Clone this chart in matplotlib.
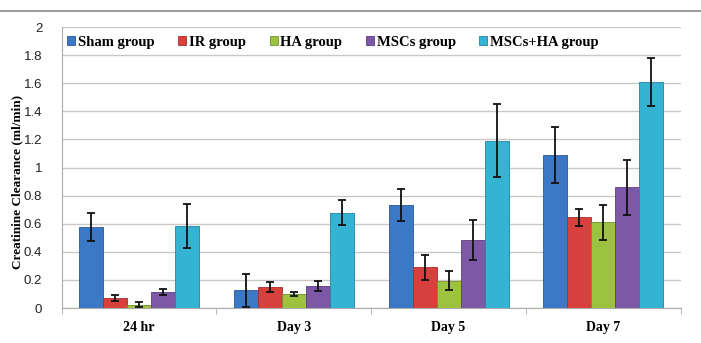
import numpy as np
import matplotlib.pyplot as plt
from matplotlib.lines import Line2D

# time points and groups
days = ['24 hr', 'Day 3', 'Day 5', 'Day 7']
groups = ['Sham group', 'IR group', 'HA group', 'MSCs group', 'MSCs+HA group']

# creatinine clearance means (ml/min), one list per group
sham = [0.58, 0.125, 0.735, 1.09]
ir = [0.07, 0.15, 0.29, 0.645]
ha = [0.025, 0.10, 0.195, 0.61]
mscs = [0.115, 0.155, 0.485, 0.86]
mscs_ha = [0.585, 0.68, 1.19, 1.61]

# error bar half-lengths
sham_err = [0.10, 0.12, 0.115, 0.20]
ir_err = [0.02, 0.035, 0.09, 0.06]
ha_err = [0.015, 0.015, 0.07, 0.125]
mscs_err = [0.02, 0.035, 0.14, 0.195]
mscs_ha_err = [0.155, 0.09, 0.26, 0.17]

colors = ['#3B78C6', '#D8403D', '#9CC23F', '#7D58A6', '#35B3D3']
edges = ['#2A5896', '#A52E2C', '#72912C', '#5A3E7D', '#23859E']

values = [sham, ir, ha, mscs, mscs_ha]
errors = [sham_err, ir_err, ha_err, mscs_err, mscs_ha_err]

fig = plt.figure(figsize=(7.01, 3.43), dpi=100)
ax = fig.add_axes([0.088, 0.102, 0.883, 0.819])

x = np.arange(len(days))
w = 0.155
for i in range(len(groups)):
    pos = x + (i - 2) * w
    ax.bar(pos, values[i], w, color=colors[i], edgecolor=edges[i], linewidth=0.6,
           label=groups[i], zorder=3)
    ax.errorbar(pos, values[i], yerr=errors[i], fmt='none', ecolor='#111111',
                elinewidth=1.3, capsize=2.8, capthick=1.3, zorder=4)

ax.set_xlim(-0.5, 3.5)
ax.set_ylim(0, 2)
ax.set_yticks(np.arange(0, 2.01, 0.2))
ax.set_yticklabels(['0', '0.2', '0.4', '0.6', '0.8', '1', '1.2', '1.4', '1.6', '1.8', '2'],
                   fontfamily='Liberation Sans', fontsize=9.5, color='#222222')
ax.yaxis.grid(True, color='#C8C8C8', linewidth=1, zorder=0)
ax.tick_params(axis='y', length=0, pad=14)

ax.set_xticks(x)
ax.set_xticklabels(days, fontfamily='Liberation Serif', fontweight='bold', fontsize=10)
ax.set_xticks(np.arange(-0.5, 3.6, 1), minor=True)
ax.tick_params(axis='x', which='major', length=0, pad=9)
ax.tick_params(axis='x', which='minor', length=4, color='#AAAAAA')

for s in ['top', 'right']:
    ax.spines[s].set_visible(False)
ax.spines['left'].set_color('#AAAAAA')
ax.spines['bottom'].set_color('#AAAAAA')

ax.set_ylabel('Creatinine Clearance (ml/min)', fontfamily='Liberation Serif',
              fontweight='bold', fontsize=9.5)
ax.yaxis.set_label_coords(-0.062, 0.45)

leg = ax.legend(loc='upper left', bbox_to_anchor=(-0.005, 1.0), ncol=5, frameon=False,
                prop={'family': 'Liberation Serif', 'weight': 'bold', 'size': 10.5},
                handlelength=0.55, handleheight=0.55, handletextpad=0.2, columnspacing=1.6,
                borderaxespad=0.2)

fig.add_artist(Line2D([0, 1], [1 - 11 / 343, 1 - 11 / 343], color='#888888', linewidth=1.2))

fig.savefig('out.png', dpi=100)
